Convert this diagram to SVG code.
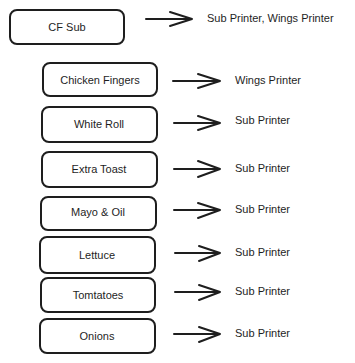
<svg xmlns="http://www.w3.org/2000/svg" width="355" height="363" viewBox="0 0 355 363">
<style>
.box{fill:#fff;stroke:#1e1e1e;stroke-width:2}
.t{font-family:"Liberation Sans",Arial,sans-serif;font-size:11px;fill:#1e1e1e}
.c{text-anchor:middle}
.a{fill:none;stroke:#1e1e1e;stroke-width:2;stroke-linecap:round;stroke-linejoin:round}
</style>
<rect width="355" height="363" fill="#fff"/>
<g id="cf-sub"><rect class="box" x="10" y="10" width="114" height="34" rx="7"/><text class="t c" x="67" y="31">CF Sub</text></g>
<g id="chicken-fingers"><rect class="box" x="43" y="63" width="114" height="33" rx="7"/><text class="t c" x="100" y="84">Chicken Fingers</text></g>
<g id="white-roll"><rect class="box" x="42" y="107" width="115" height="35" rx="7"/><text class="t c" x="99" y="128">White Roll</text></g>
<g id="extra-toast"><rect class="box" x="42" y="152" width="115" height="35" rx="7"/><text class="t c" x="99" y="173">Extra Toast</text></g>
<g id="mayo-oil"><rect class="box" x="41" y="197" width="115" height="33" rx="7"/><text class="t c" x="98" y="216">Mayo &amp; Oil</text></g>
<g id="lettuce"><rect class="box" x="40" y="237" width="115" height="36" rx="7"/><text class="t c" x="97" y="259">Lettuce</text></g>
<g id="tomtatoes"><rect class="box" x="41" y="278" width="114" height="34" rx="7"/><text class="t c" x="98" y="299">Tomtatoes</text></g>
<g id="onions"><rect class="box" x="40" y="319" width="115" height="34" rx="7"/><text class="t c" x="97" y="340">Onions</text></g>
<g id="connectors">
<path class="a" d="M146 19H192M170 12L192 19L170 26"/>
<path class="a" d="M173 81H220M198 74L220 81L198 88"/>
<path class="a" d="M174 123H220M198 116L220 123L198 130"/>
<path class="a" d="M174 169H220M198 161L220 169L198 177"/>
<path class="a" d="M174 210H220M198 203L220 210L198 218"/>
<path class="a" d="M175 253H220M199 246L220 253L199 261"/>
<path class="a" d="M175 292H220M199 285L220 292L199 300"/>
<path class="a" d="M174 334H220M199 327L220 334L199 342"/>
</g>
<g id="labels">
<text class="t" x="207" y="22">Sub Printer, Wings Printer</text>
<text class="t" x="235" y="84">Wings Printer</text>
<text class="t" x="235" y="124">Sub Printer</text>
<text class="t" x="235" y="172">Sub Printer</text>
<text class="t" x="235" y="213">Sub Printer</text>
<text class="t" x="235" y="256">Sub Printer</text>
<text class="t" x="235" y="295">Sub Printer</text>
<text class="t" x="235" y="337">Sub Printer</text>
</g>
</svg>
